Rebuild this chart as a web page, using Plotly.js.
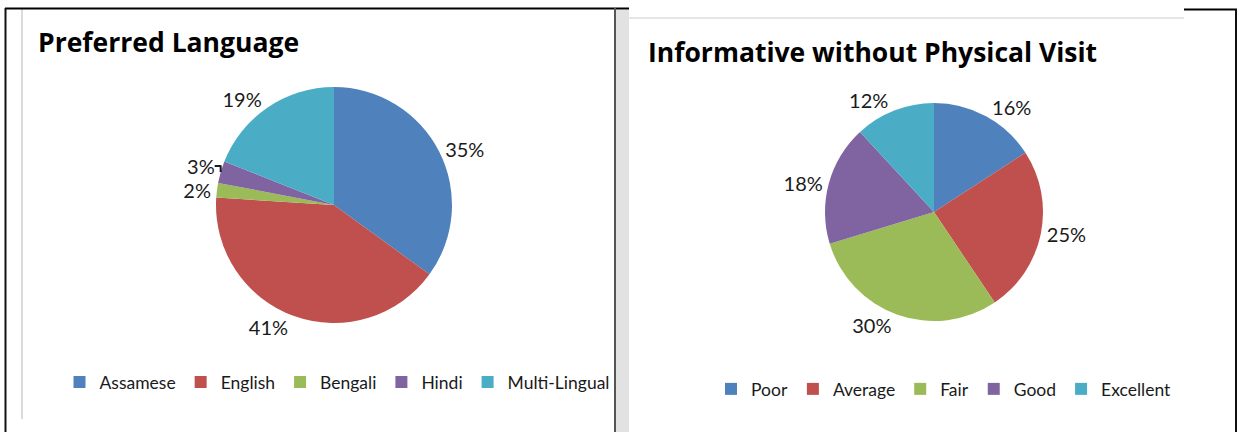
<!DOCTYPE html>
<html>
<head>
<meta charset="utf-8">
<script src="https://cdn.plot.ly/plotly-3.0.1.min.js"></script>
<style>
  html, body { margin: 0; padding: 0; background: #ffffff; }
  #chart { width: 1237px; height: 432px; }
</style>
</head>
<body>
<div id="chart"></div>
<script>
// ---- data ----
const languageLabels = ["Assamese", "English", "Bengali", "Hindi", "Multi-Lingual"];
const languageValues = [35, 41, 2, 3, 19];
const visitLabels = ["Poor", "Average", "Fair", "Good", "Excellent"];
const visitValues = [16, 25, 30, 18, 12];
const sliceColors = ["#4F81BD", "#C0504D", "#9BBB59", "#8064A2", "#4BACC6"];
const leftTitle = "Preferred Language";
const rightTitle = "Informative without Physical Visit";

const W = 1237, H = 432;
const px = v => v / W;
const py = v => 1 - v / H;
const FONT = "Lato, 'Open Sans', sans-serif";
const TITLE_FONT = "'Open Sans', Lato, sans-serif";

const pctText = vals => vals.map(v => v + "%");

const traces = [
  {
    type: "pie",
    labels: languageLabels,
    values: languageValues,
    text: pctText(languageValues),
    textinfo: "text",
    textposition: "outside",
    sort: false,
    direction: "clockwise",
    rotation: 0,
    marker: { colors: sliceColors, line: { width: 0 } },
    outsidetextfont: { family: FONT, size: 20, color: "#1a1a1a" },
    domain: { x: [px(216), px(452)], y: [py(323), py(87)] },
    legend: "legend",
    hoverinfo: "label+percent",
    automargin: false
  },
  {
    type: "pie",
    labels: visitLabels,
    values: visitValues,
    text: pctText(visitValues),
    textinfo: "text",
    textposition: "outside",
    sort: false,
    direction: "clockwise",
    rotation: 0,
    marker: { colors: sliceColors, line: { width: 0 } },
    outsidetextfont: { family: FONT, size: 20, color: "#1a1a1a" },
    domain: { x: [px(825), px(1043)], y: [py(321), py(103)] },
    legend: "legend2",
    hoverinfo: "label+percent",
    automargin: false
  }
];

const line = (x0, y0, x1, y1, color, width) => ({
  type: "line", xref: "paper", yref: "paper",
  x0: px(x0), y0: py(y0), x1: px(x1), y1: py(y1),
  line: { color: color, width: width }, layer: "above"
});

const shapes = [
  { type: "rect", xref: "paper", yref: "paper", x0: px(616), x1: px(629), y0: py(432), y1: py(10),
    fillcolor: "#e2e2e2", line: { width: 0 }, layer: "below" },
  line(629, 18, 1184, 18, "#dddddd", 1.5),
  line(22, 9, 22, 419, "#cfcfcf", 1.5),
  line(5, 8.5, 629, 8.5, "#000000", 2),
  line(1184, 9.5, 1237, 9.5, "#000000", 2),
  line(5.5, 8, 5.5, 432, "#111111", 2),
  line(615, 8, 615, 432, "#555555", 2),
  line(1236, 9, 1236, 432, "#111111", 2)
];

const annotations = [
  { text: leftTitle, xref: "paper", yref: "paper", x: px(36), y: py(42), xanchor: "left", yanchor: "middle",
    showarrow: false, font: { family: TITLE_FONT, size: 26.5, color: "#000", weight: "bold" } },
  { text: rightTitle, xref: "paper", yref: "paper", x: px(646), y: py(52), xanchor: "left", yanchor: "middle",
    showarrow: false, font: { family: TITLE_FONT, size: 26.5, color: "#000", weight: "bold" } }
];

const legendFont = { family: FONT, size: 17.5, color: "#1a1a1a" };

const layout = {
  width: W, height: H,
  margin: { l: 0, r: 0, t: 0, b: 0 },
  paper_bgcolor: "#ffffff",
  plot_bgcolor: "#ffffff",
  showlegend: true,
  legend: { orientation: "h", x: px(337), xanchor: "center", y: py(382), yanchor: "middle",
    font: legendFont, bgcolor: "rgba(0,0,0,0)" },
  legend2: { orientation: "h", x: px(944), xanchor: "center", y: py(389), yanchor: "middle",
    font: legendFont, bgcolor: "rgba(0,0,0,0)" },
  shapes: shapes,
  annotations: annotations
};

Plotly.newPlot("chart", traces, layout, { displayModeBar: false, staticPlot: true });
</script>
</body>
</html>
